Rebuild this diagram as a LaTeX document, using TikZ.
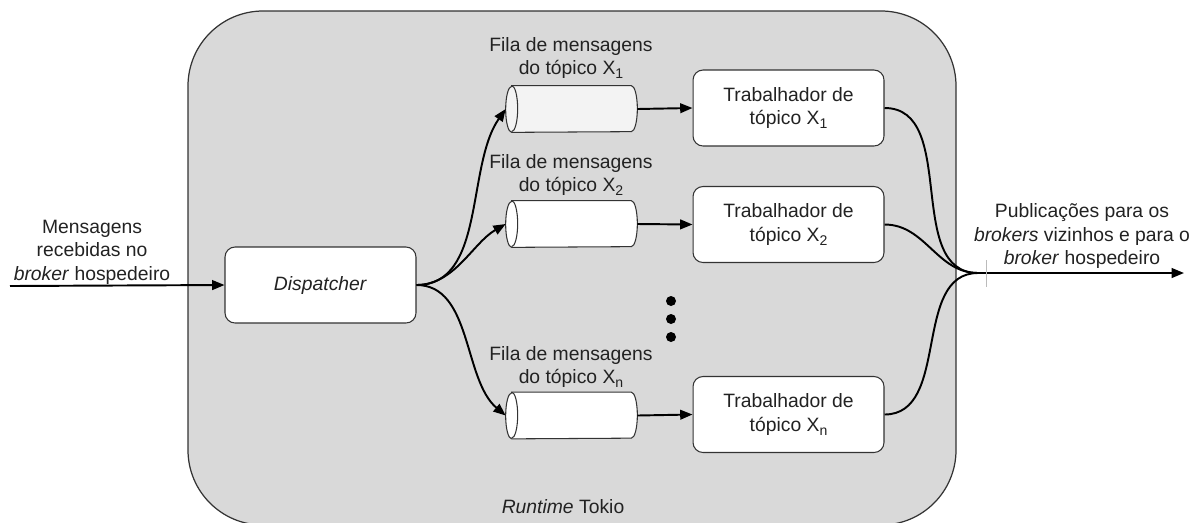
\documentclass[tikz,border=0pt]{standalone}
\usepackage{fontspec}
\setmainfont{Liberation Sans}
\usetikzlibrary{arrows.meta,calc}

\definecolor{areafill}{HTML}{D9D9D9}
\definecolor{linecol}{HTML}{333333}
\definecolor{txtcol}{HTML}{222222}
\definecolor{firstq}{HTML}{F3F3F3}
\definecolor{tickcol}{HTML}{BBBBBB}

% lowered index after a topic letter
\newcommand{\idx}[1]{\raisebox{-2.3pt}{\fontsize{8}{8}\selectfont #1}}

\tikzset{
  every node/.style={font=\fontsize{11}{13.3}\selectfont, text=txtcol},
  area/.style={draw=linecol, line width=0.7pt, fill=areafill, rounded corners=1.5cm},
  procbox/.style={draw=linecol, line width=0.6pt, fill=white, rounded corners=0.2cm,
    minimum width=3.82cm, minimum height=1.52cm, align=center, inner sep=0pt},
  fila/.style={minimum width=2.62cm, minimum height=0.92cm, inner sep=0pt},
  lbl/.style={align=center, inner sep=0pt},
  flow/.style={line width=1.1pt, draw=black, -{Triangle[length=7pt,width=5.5pt]}},
  merge/.style={line width=1.1pt, draw=black},
  dot/.style={circle, fill=black, minimum size=0.2cm, inner sep=0pt},
}

% horizontal cylinder drawn around a named rectangular node
\newcommand{\filashape}[3]{%
  \node[fila] (#1) at #2 {};
  \filldraw[fill=#3, draw=linecol, line width=0.6pt]
    ($(#1.north west)+(6,0)$) -- ($(#1.north east)+(-6,0)$)
    arc[start angle=90, end angle=-90, x radius=0.12cm, y radius=0.46cm]
    -- ($(#1.south west)+(6,0)$)
    arc[start angle=270, end angle=90, x radius=0.12cm, y radius=0.46cm] -- cycle;
  \draw[draw=linecol, line width=0.6pt] ($(#1.north west)+(6,0)$)
    arc[start angle=90, end angle=-90, x radius=0.12cm, y radius=0.46cm];
}

\begin{document}
\begin{tikzpicture}[x=0.02cm, y=-0.02cm]
  \useasboundingbox (0,0) rectangle (1192,522);

  % runtime area
  \path[area] (188,11) rectangle (956,525);
  \node[anchor=base] (rt) at (563,513) {\textit{Runtime} Tokio};

  % dispatcher
  \node[procbox] (disp) at (320.5,285) {\textit{Dispatcher}};

  % queues
  \filashape{q1}{(571.5,109)}{firstq}
  \filashape{q2}{(571.5,224)}{white}
  \filashape{qn}{(571.5,415.5)}{white}

  \node[lbl] (l1) at (571,58) {Fila de mensagens\\do tópico X\idx{1}};
  \node[lbl] (l2) at (571,175) {Fila de mensagens\\do tópico X\idx{2}};
  \node[lbl] (ln) at (571,367) {Fila de mensagens\\do tópico X\idx{n}};

  % workers
  \node[procbox] (w1) at (788.5,108) {Trabalhador de\\tópico X\idx{1}};
  \node[procbox] (w2) at (788.5,224.5) {Trabalhador de\\tópico X\idx{2}};
  \node[procbox] (wn) at (788.5,414.5) {Trabalhador de\\tópico X\idx{n}};

  % ellipsis between queues
  \node[dot] (d1) at (671,301) {};
  \node[dot] (d2) at (671,319) {};
  \node[dot] (d3) at (671,337) {};

  % input
  \coordinate (src) at (10,286);
  \node[lbl] (inl) at (92,252) {Mensagens\\recebidas no\\\textit{broker} hospedeiro};
  \draw[flow] (src) -- (disp.west);

  % dispatcher to queues
  \draw[flow] (disp.east) to[out=0, in=235, looseness=0.9] (q1.west);
  \draw[flow] (disp.east) to[out=0, in=210, looseness=0.9] (q2.west);
  \draw[flow] (disp.east) to[out=0, in=140, looseness=0.9] (qn.west);

  % queues to workers
  \draw[flow] (q1.east) -- (w1.west);
  \draw[flow] (q2.east) -- (w2.west);
  \draw[flow] (qn.east) -- (wn.west);

  % merge of the workers' output
  \coordinate (jn) at (978,273);
  \coordinate (dst) at (1184,273);
  \draw[merge] (w1.east) to[out=0, in=180] (jn);
  \draw[merge] (w2.east) to[out=0, in=180] (jn);
  \draw[merge] (wn.east) to[out=0, in=180] (jn);
  \draw[flow] (jn) -- (dst);
  \coordinate (tk1) at (986,260);
  \coordinate (tk2) at (986,287);
  \draw[tickcol, line width=0.5pt] (tk1) -- (tk2);

  \node[lbl] (outl) at (1082,236) {Publicações para os\\\textit{brokers} vizinhos e para o\\\textit{broker} hospedeiro};
\end{tikzpicture}
\end{document}
